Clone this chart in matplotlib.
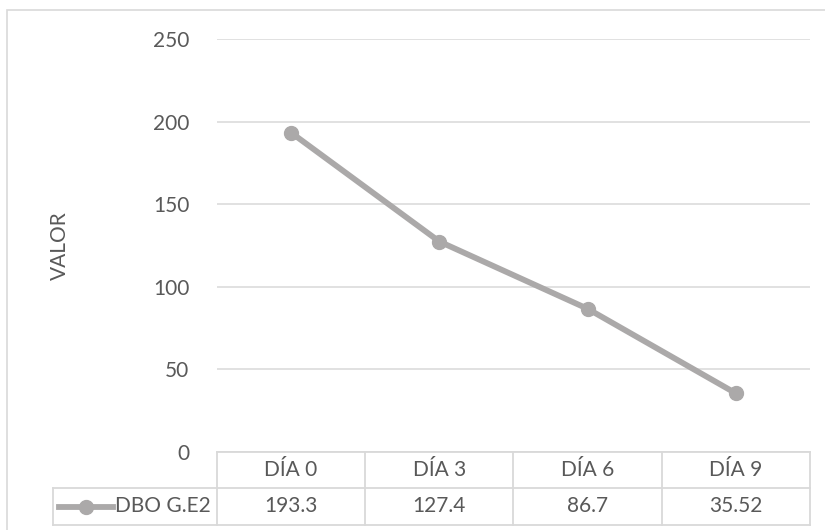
import matplotlib.pyplot as plt
from matplotlib.lines import Line2D
from matplotlib.patches import Rectangle
from matplotlib.transforms import blended_transform_factory

# series data
days = ["DÍA 0", "DÍA 3", "DÍA 6", "DÍA 9"]
dbo_values = [193.3, 127.4, 86.7, 35.52]
value_labels = ["193.3", "127.4", "86.7", "35.52"]
series_name = "DBO G.E2"
y_ticks = [0, 50, 100, 150, 200, 250]

LINE_GRAY = "#ABA9A9"
GRID = "#D9D9D9"
TEXT = "#595959"
FS = 15

plt.rcParams["font.family"] = ["Lato", "DejaVu Sans"]

W, H = 825, 530
fig = plt.figure(figsize=(W / 100, H / 100), dpi=100)


def fx(px):
    return px / W


def fy(py):
    return 1 - py / H


# chart frame
fig.add_artist(Rectangle((fx(7), fy(540)), fx(830), fy(10) - fy(540),
                         transform=fig.transFigure, fill=False,
                         edgecolor=GRID, linewidth=1.2))

ax = fig.add_axes([fx(217), fy(452), fx(810) - fx(217), fy(39) - fy(452)])
x = list(range(len(days)))
ax.plot(x, dbo_values, color=LINE_GRAY, linewidth=4.2, marker="o",
        markersize=10, markerfacecolor=LINE_GRAY, markeredgecolor=LINE_GRAY,
        solid_capstyle="round", zorder=3)

ax.set_xlim(-0.5, len(days) - 0.5)
ax.set_ylim(0, 250)
ax.set_yticks(y_ticks)
ax.set_yticklabels([str(t) for t in y_ticks], fontsize=FS, color=TEXT)
ax.tick_params(axis="y", length=0, pad=20)
ax.set_xticks([])
ax.grid(axis="y", color=GRID, linewidth=1.1)
for side in ax.spines.values():
    side.set_visible(False)
ax.set_ylabel("VALOR", fontsize=FS, color=TEXT, labelpad=60)

# data table below the axis
tr = blended_transform_factory(ax.transData, ax.transAxes)
px_per_ax = 452 - 39
row1 = -36 / px_per_ax
row2 = -73 / px_per_ax
tbl = dict(color=GRID, linewidth=1.3, transform=tr, clip_on=False)
left = -0.5
right = len(days) - 0.5
ax.add_line(Line2D([left, right], [0, 0], **tbl))
ax.add_line(Line2D([right, right], [0, row2], **tbl))
ax.add_line(Line2D([left, left], [0, row2], **tbl))
for i in range(1, len(days)):
    ax.add_line(Line2D([i - 0.5, i - 0.5], [0, row2], **tbl))

# legend cell to the left of the first column
cat_px = (810 - 217) / len(days)
leg_left = left - (217 - 53) / cat_px
ax.add_line(Line2D([leg_left, right], [row1, row1], **tbl))
ax.add_line(Line2D([leg_left, right], [row2, row2], **tbl))
ax.add_line(Line2D([leg_left, leg_left], [row1, row2], **tbl))

for i, (d, v) in enumerate(zip(days, value_labels)):
    ax.text(i, row1 / 2, d, transform=tr, ha="center", va="center",
            fontsize=FS, color=TEXT)
    ax.text(i, (row1 + row2) / 2, v, transform=tr, ha="center",
            va="center", fontsize=FS, color=TEXT)

key_y = (row1 + row2) / 2
k0 = left - (217 - 59) / cat_px
k1 = left - (217 - 113) / cat_px
ax.add_line(Line2D([k0, k1], [key_y, key_y], color=LINE_GRAY,
                   linewidth=4.2, transform=tr, clip_on=False))
ax.add_line(Line2D([(k0 + k1) / 2], [key_y], color=LINE_GRAY, marker="o",
                   markersize=10, linestyle="none", transform=tr,
                   clip_on=False))
ax.text(left - (217 - 115) / cat_px, key_y, series_name, transform=tr,
        ha="left", va="center", fontsize=FS, color=TEXT)

fig.savefig("out.png", dpi=100)
